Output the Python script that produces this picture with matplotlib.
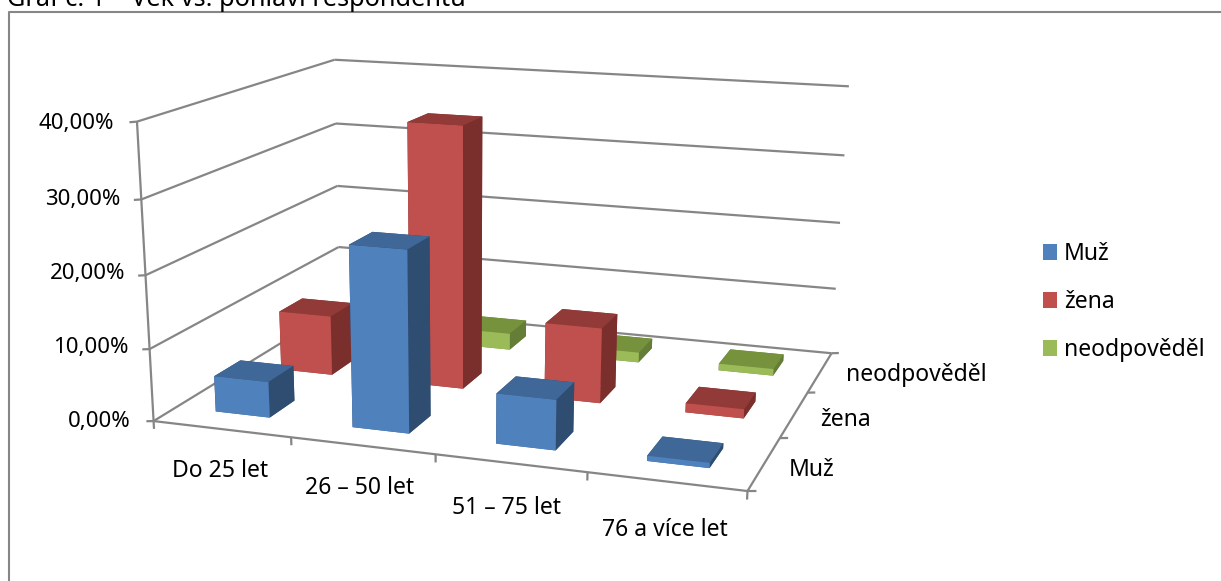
import numpy as np
import matplotlib
matplotlib.use('Agg')
import matplotlib.pyplot as plt
from matplotlib.lines import Line2D
from matplotlib.patches import Patch
from mpl_toolkits.mplot3d.art3d import Line3DCollection

plt.rcParams['font.family'] = ['Noto Sans', 'DejaVu Sans']

categories = ['Do 25 let', '26 – 50 let', '51 – 75 let', '76 a více let']
series = ['Muž', 'žena', 'neodpověděl']
muz = [5.0, 24.7, 6.8, 0.7]
zena = [8.7, 37.2, 10.7, 1.3]
neodpovedel = [0.0, 2.5, 1.5, 1.0]
zticks = [0, 10, 20, 30, 40]
zticklabels = ['0,00%', '10,00%', '20,00%', '30,00%', '40,00%']

# front, top, side colours per series
colors = [('#4F81BD', '#3F6797', '#2F4D71'),
          ('#C0504D', '#923A38', '#7B2F2D'),
          ('#9BBB59', '#76923C', '#647E38')]

W, H = 1221, 581
fig = plt.figure(figsize=(W / 100, H / 100), dpi=100)
ax = fig.add_axes([0, 0, 1, 1], projection='3d', computed_zorder=False)
ax.set_axis_off()
ax.set_xlim(0, 4)
ax.set_ylim(0, 3)
ax.set_zlim(0, 40)

# camera fitted to the corners of the plot box: data (x, y, z) -> picture pixels
box_data = [(0, 0, 0), (4, 0, 0), (4, 3, 0), (0, 3, 0), (0, 0, 40), (0, 3, 40), (4, 3, 40)]
box_px = [(155, 418), (748, 493), (832, 351), (338, 310), (135, 123), (337, 58), (848, 87)]
rows, rhs = [], []
for (x, y, z), (u, v) in zip(box_data, box_px):
    rows.append([x, y, z, 1, 0, 0, 0, 0, -u * x, -u * y, -u * z])
    rhs.append(u)
    rows.append([0, 0, 0, 0, x, y, z, 1, -v * x, -v * y, -v * z])
    rhs.append(v)
p = np.linalg.lstsq(np.array(rows, float), np.array(rhs, float), rcond=None)[0]
cam = np.array([p[:4], p[4:8], [0, 0, 0, -1], [p[8], p[9], p[10], 1]])
ax.get_proj = lambda: cam
ax.apply_aspect = lambda position=None: None
ax.viewLim.intervalx = (0, W)
ax.viewLim.intervaly = (H, 0)

wall = '#868686'
segs = []
for lev in zticks:
    segs.append([(0, 0, lev), (0, 3, lev)])
    segs.append([(0, 3, lev), (4, 3, lev)])
    # ticks come out level in the picture, not along the axes
    segs.append([(0, 0, lev), (-0.054, 0, lev - 0.14)])
segs.append([(0, 0, 0), (0, 0, 40)])
segs.append([(0, 0, 0), (4, 0, 0)])
segs.append([(4, 0, 0), (4, 3, 0)])
for i in range(5):
    segs.append([(i, 0, 0), (i, 0, -1.1)])
for j in range(4):
    segs.append([(4, j, 0), (4.054, j, 0.14)])
ax.add_collection3d(Line3DCollection(segs, colors=wall, linewidths=1.6, zorder=0))

# back row first so nearer bars paint over it
wx = 0.40
wy = 0.38
values = [muz, zena, neodpovedel]
for j in [2, 1, 0]:
    front, top, side = colors[j]
    face = [top, top, front, side, side, side]
    for i in range(len(categories)):
        if values[j][i] > 0:
            ax.bar3d(i + 0.495 - wx / 2, j + 0.5 - wy / 2, 0, wx, wy, values[j][i],
                     color=face, shade=False, zorder=1)

fs = 16.5
def px_text(x, y, s, **kw):
    fig.text(x / W, 1 - y / H, s, fontsize=kw.pop('size', fs), color='black', **kw)

zlabel_right = [131, 129, 125, 120, 114]
zlabel_y = [421, 348, 274, 199, 123]
for x, y, s in zip(zlabel_right, zlabel_y, zticklabels):
    px_text(x, y, s, ha='right', va='center', size=16)
xlabel_x = [220, 360, 507, 665]
xlabel_y = [471, 488, 508, 530]
for x, y, s in zip(xlabel_x, xlabel_y, categories):
    px_text(x, y, s, ha='center', va='center')
ylabel_x = [789, 820, 846]
ylabel_y = [470, 420, 375]
for x, y, s in zip(ylabel_x, ylabel_y, series):
    px_text(x, y, s, ha='left', va='center')

px_text(7, 5.5, 'Graf č. 1 – Věk vs. pohlaví respondentů', ha='left', va='baseline', size=18.2)

# outer frame only shows on the left and top, the crop cuts the rest
fx, fy = 9 / W, 1 - 12 / H
fig.add_artist(Line2D([fx, fx, 1], [0, fy, fy], transform=fig.transFigure, color=wall, lw=1.5))

handles = [Patch(facecolor=c[0], label=s) for c, s in zip(colors, series)]
fig.legend(handles=handles, loc='upper left', bbox_to_anchor=(1025 / W, 1 - 224 / H),
           frameon=False, fontsize=fs, handlelength=0.6, handleheight=0.7,
           handletextpad=0.3, labelspacing=1.05, borderpad=0.3)

fig.savefig('out.png', dpi=100)
